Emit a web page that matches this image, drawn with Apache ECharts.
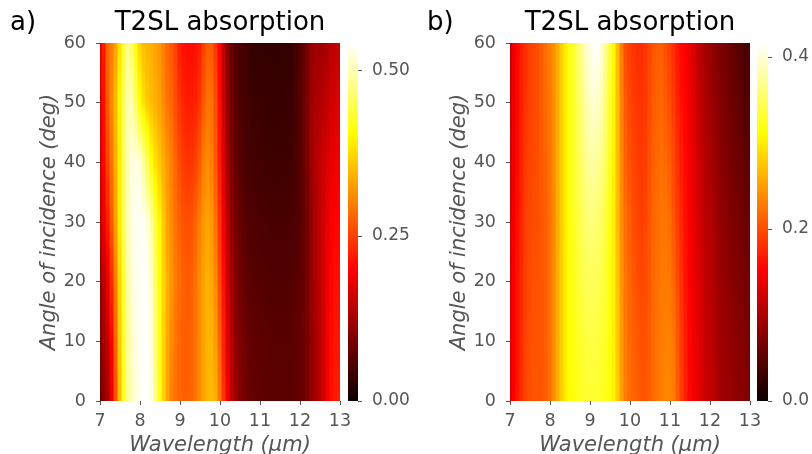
<!DOCTYPE html>
<html><head><meta charset="utf-8">
<script src="https://cdn.jsdelivr.net/npm/echarts@6/dist/echarts.min.js"></script>
<style>html,body{margin:0;padding:0;background:#fff}#c{width:812px;height:454px}</style>
</head><body><div id="c"></div>
<script>
// ---------- data ----------
const wavelengths = [7.0,7.1,7.2,7.3,7.4,7.5,7.6,7.7,7.8,7.9,
  8.0,8.1,8.2,8.3,8.4,8.5,8.6,8.7,8.8,8.9,
  9.0,9.1,9.2,9.3,9.4,9.5,9.6,9.7,9.8,9.9,
  10.0,10.1,10.2,10.3,10.4,10.5,10.6,10.7,10.8,10.9,
  11.0,11.1,11.2,11.3,11.4,11.5,11.6,11.7,11.8,11.9,
  12.0,12.1,12.2,12.3,12.4,12.5,12.6,12.7,12.8,12.9,13.0];
const angles = [0,10,20,30,40,50,60];

// panel a) absorption, one row per angle
const absA_0 = [0.08,0.10,0.13,0.18,0.26,0.35,0.42,0.48,0.51,0.52,
  0.53,0.54,0.54,0.53,0.48,0.42,0.37,0.33,0.30,0.29,
  0.28,0.275,0.275,0.28,0.29,0.31,0.33,0.345,0.35,0.34,
  0.30,0.24,0.19,0.15,0.12,0.10,0.09,0.08,0.075,0.07,
  0.07,0.069,0.068,0.067,0.066,0.066,0.066,0.067,0.068,0.07,
  0.072,0.077,0.09,0.11,0.125,0.14,0.16,0.19,0.21,0.22,0.22];
const absA_10 = [0.09,0.12,0.15,0.20,0.28,0.36,0.43,0.48,0.51,0.525,
  0.535,0.54,0.54,0.52,0.47,0.42,0.37,0.335,0.31,0.295,
  0.28,0.275,0.272,0.278,0.29,0.31,0.33,0.345,0.345,0.325,
  0.28,0.225,0.175,0.14,0.11,0.095,0.085,0.077,0.072,0.068,
  0.067,0.066,0.065,0.064,0.063,0.063,0.063,0.064,0.066,0.068,
  0.072,0.078,0.09,0.11,0.125,0.14,0.16,0.19,0.205,0.215,0.215];
const absA_20 = [0.11,0.14,0.18,0.23,0.30,0.37,0.43,0.49,0.52,0.53,
  0.535,0.54,0.535,0.51,0.46,0.41,0.37,0.34,0.32,0.30,
  0.285,0.275,0.27,0.275,0.29,0.31,0.33,0.34,0.335,0.31,
  0.26,0.21,0.16,0.125,0.10,0.085,0.075,0.068,0.064,0.062,
  0.061,0.06,0.059,0.058,0.057,0.057,0.057,0.058,0.06,0.063,
  0.068,0.075,0.09,0.11,0.13,0.145,0.165,0.185,0.20,0.21,0.21];
const absA_30 = [0.14,0.18,0.22,0.27,0.33,0.39,0.45,0.50,0.525,0.535,
  0.54,0.535,0.52,0.49,0.44,0.40,0.36,0.33,0.31,0.29,
  0.275,0.265,0.26,0.265,0.28,0.30,0.32,0.33,0.32,0.29,
  0.24,0.19,0.14,0.11,0.09,0.075,0.065,0.06,0.057,0.055,
  0.054,0.053,0.052,0.051,0.05,0.05,0.05,0.051,0.053,0.056,
  0.06,0.07,0.085,0.11,0.13,0.145,0.16,0.18,0.195,0.20,0.20];
const absA_40 = [0.15,0.20,0.25,0.29,0.34,0.39,0.45,0.50,0.52,0.53,
  0.52,0.49,0.45,0.41,0.38,0.36,0.34,0.32,0.30,0.28,
  0.26,0.245,0.24,0.24,0.25,0.27,0.30,0.31,0.30,0.27,
  0.22,0.17,0.125,0.095,0.075,0.063,0.056,0.05,0.047,0.046,
  0.045,0.044,0.043,0.042,0.042,0.042,0.042,0.043,0.045,0.05,
  0.06,0.075,0.095,0.12,0.135,0.145,0.16,0.17,0.18,0.185,0.19];
const absA_50 = [0.16,0.21,0.27,0.31,0.35,0.40,0.45,0.50,0.50,0.46,
  0.41,0.38,0.36,0.35,0.34,0.33,0.31,0.29,0.28,0.26,
  0.24,0.225,0.22,0.22,0.225,0.24,0.27,0.29,0.29,0.26,
  0.21,0.16,0.11,0.085,0.065,0.055,0.05,0.045,0.042,0.04,
  0.039,0.038,0.037,0.037,0.036,0.036,0.037,0.038,0.04,0.048,
  0.06,0.075,0.095,0.12,0.13,0.135,0.14,0.15,0.16,0.165,0.17];
const absA_60 = [0.17,0.22,0.28,0.30,0.33,0.38,0.43,0.48,0.46,0.41,
  0.37,0.35,0.345,0.34,0.33,0.32,0.30,0.28,0.27,0.25,
  0.22,0.21,0.205,0.205,0.21,0.22,0.25,0.27,0.27,0.24,
  0.20,0.15,0.10,0.075,0.06,0.05,0.045,0.04,0.035,0.034,
  0.033,0.032,0.032,0.031,0.031,0.032,0.033,0.034,0.036,0.045,
  0.055,0.07,0.09,0.11,0.12,0.12,0.125,0.13,0.14,0.145,0.15];

// panel b) absorption, one row per angle
const absB_0 = [0.13,0.15,0.165,0.18,0.195,0.20,0.205,0.205,0.205,0.21,
  0.22,0.24,0.26,0.28,0.30,0.31,0.315,0.32,0.325,0.33,
  0.33,0.33,0.33,0.325,0.32,0.315,0.305,0.28,0.25,0.23,
  0.22,0.215,0.21,0.205,0.205,0.21,0.22,0.225,0.23,0.235,
  0.235,0.23,0.21,0.19,0.17,0.155,0.145,0.14,0.13,0.12,
  0.115,0.11,0.10,0.095,0.09,0.09,0.085,0.08,0.08,0.075,0.075];
const absB_10 = [0.13,0.15,0.163,0.178,0.193,0.198,0.203,0.203,0.205,0.21,
  0.22,0.238,0.26,0.28,0.30,0.31,0.318,0.325,0.33,0.335,
  0.338,0.338,0.336,0.332,0.325,0.315,0.303,0.278,0.248,0.228,
  0.218,0.212,0.207,0.202,0.202,0.208,0.218,0.224,0.229,0.232,
  0.232,0.226,0.207,0.187,0.168,0.154,0.144,0.138,0.128,0.118,
  0.113,0.108,0.098,0.093,0.088,0.087,0.082,0.078,0.077,0.072,0.072];
const absB_20 = [0.128,0.148,0.162,0.177,0.192,0.197,0.202,0.202,0.205,0.21,
  0.22,0.237,0.26,0.28,0.30,0.312,0.32,0.33,0.338,0.345,
  0.348,0.348,0.345,0.34,0.33,0.318,0.302,0.275,0.245,0.225,
  0.214,0.206,0.20,0.196,0.198,0.207,0.217,0.222,0.227,0.228,
  0.226,0.216,0.198,0.181,0.164,0.152,0.142,0.134,0.124,0.114,
  0.109,0.104,0.094,0.089,0.084,0.081,0.076,0.074,0.071,0.066,0.066];
const absB_30 = [0.125,0.145,0.16,0.175,0.19,0.195,0.20,0.20,0.205,0.21,
  0.22,0.235,0.26,0.28,0.30,0.315,0.325,0.335,0.345,0.355,
  0.36,0.36,0.355,0.35,0.335,0.32,0.30,0.27,0.24,0.22,
  0.21,0.20,0.195,0.19,0.195,0.205,0.215,0.22,0.225,0.225,
  0.22,0.205,0.19,0.175,0.16,0.15,0.14,0.13,0.12,0.11,
  0.105,0.10,0.09,0.085,0.08,0.075,0.07,0.07,0.065,0.06,0.06];
const absB_40 = [0.12,0.143,0.158,0.173,0.187,0.193,0.198,0.20,0.206,0.213,
  0.223,0.237,0.26,0.28,0.30,0.315,0.327,0.34,0.353,0.366,
  0.375,0.378,0.373,0.365,0.347,0.327,0.303,0.27,0.237,0.213,
  0.203,0.195,0.19,0.187,0.19,0.202,0.212,0.217,0.22,0.217,
  0.21,0.197,0.182,0.168,0.157,0.147,0.137,0.125,0.115,0.105,
  0.10,0.093,0.085,0.08,0.075,0.07,0.065,0.063,0.058,0.053,0.053];
const absB_50 = [0.115,0.141,0.156,0.171,0.183,0.191,0.196,0.20,0.208,0.217,
  0.227,0.238,0.26,0.28,0.30,0.315,0.328,0.345,0.362,0.378,
  0.39,0.397,0.394,0.383,0.358,0.333,0.306,0.27,0.233,0.206,
  0.196,0.19,0.185,0.183,0.187,0.198,0.208,0.213,0.215,0.208,
  0.20,0.188,0.173,0.161,0.153,0.143,0.133,0.12,0.11,0.10,
  0.095,0.087,0.08,0.075,0.07,0.065,0.06,0.056,0.051,0.046,0.046];
const absB_60 = [0.11,0.14,0.155,0.17,0.18,0.19,0.195,0.20,0.21,0.22,
  0.23,0.24,0.26,0.28,0.30,0.315,0.33,0.35,0.37,0.39,
  0.405,0.415,0.415,0.40,0.37,0.34,0.31,0.27,0.23,0.20,
  0.19,0.185,0.18,0.18,0.185,0.195,0.205,0.21,0.21,0.20,
  0.19,0.18,0.165,0.155,0.15,0.14,0.13,0.115,0.105,0.095,
  0.09,0.08,0.075,0.07,0.065,0.06,0.055,0.05,0.045,0.04,0.04];

// colour-scale ranges and tick labels
const colorMaxA = 0.542;
const colorMaxB = 0.416;
const cbTicksA = [0, 0.25, 0.5];
const cbTicksB = [0, 0.2, 0.4];
const xTicks = [7, 8, 9, 10, 11, 12, 13];
const yTicks = [0, 10, 20, 30, 40, 50, 60];

// ---------- build ----------
const rowsA = [absA_0, absA_10, absA_20, absA_30, absA_40, absA_50, absA_60];
const rowsB = [absB_0, absB_10, absB_20, absB_30, absB_40, absB_50, absB_60];
// each item: [wavelength, angle_low, angle_high, value_low, value_high]
function toCells(rows) {
  const out = [];
  for (let r = 0; r < angles.length - 1; r++) {
    rows[r].forEach((v, c) => out.push([wavelengths[c], angles[r], angles[r + 1], v, rows[r + 1][c]]));
  }
  return out;
}
const dataA = toCells(rowsA);
const dataB = toCells(rowsB);

// matplotlib "hot" colormap
function hotColor(t) {
  t = Math.max(0, Math.min(1, t));
  const r = t < 0.365079 ? 0.0416 + (1 - 0.0416) * t / 0.365079 : 1;
  const g = t < 0.365079 ? 0 : (t < 0.746032 ? (t - 0.365079) / 0.380953 : 1);
  const b = t < 0.746032 ? 0 : (t - 0.746032) / 0.253968;
  return 'rgb(' + Math.round(r * 255) + ',' + Math.round(g * 255) + ',' + Math.round(b * 255) + ')';
}
function colorbarGradient() {
  const stops = [];
  const n = 60;
  for (let i = 0; i <= n; i++) stops.push({ offset: i / n, color: hotColor(1 - i / n) });
  return new echarts.graphic.LinearGradient(0, 0, 0, 1, stops);
}

const FONT = 'DejaVu Sans';
const GRAY = '#555555';
const dW = 0.1;

function cellRenderer(vmax) {
  return function (params, api) {
    const x = api.value(0), a0 = api.value(1), a1 = api.value(2);
    const v0 = api.value(3), v1 = api.value(4);
    const pTL = api.coord([x - dW / 2, a1]);
    const pBR = api.coord([x + dW / 2, a0]);
    const cs = params.coordSys;
    const rect = echarts.graphic.clipRectByRect(
      { x: pTL[0] - 0.5, y: pTL[1] - 0.5, width: pBR[0] - pTL[0] + 1, height: pBR[1] - pTL[1] + 1 },
      { x: cs.x, y: cs.y, width: cs.width, height: cs.height });
    if (!rect) return null;
    const stops = [];
    const n = 8;
    for (let k = 0; k <= n; k++) {
      const v = v1 + (v0 - v1) * k / n;   // top (high angle) -> bottom (low angle)
      stops.push({ offset: k / n, color: hotColor(v / vmax) });
    }
    return { type: 'rect', shape: rect,
      style: { fill: new echarts.graphic.LinearGradient(0, 0, 0, 1, stops) } };
  };
}

function mainX(gi) {
  return {
    gridIndex: gi, type: 'value', min: 7, max: 13, interval: 1,
    name: 'Wavelength (µm)', nameLocation: 'middle', nameGap: 28,
    nameTextStyle: { fontFamily: FONT, fontSize: 21, fontStyle: 'italic', color: GRAY },
    axisLine: { show: false }, splitLine: { show: false },
    axisTick: { show: true, length: 4, lineStyle: { color: GRAY } },
    axisLabel: { margin: 11, fontFamily: FONT, fontSize: 17.5, color: GRAY, customValues: xTicks }
  };
}
function mainY(gi) {
  return {
    gridIndex: gi, type: 'value', min: 0, max: 60, interval: 10,
    name: 'Angle of incidence (deg)', nameLocation: 'middle', nameGap: 30,
    nameTextStyle: { fontFamily: FONT, fontSize: 21, fontStyle: 'italic', color: GRAY },
    axisLine: { show: false }, splitLine: { show: false },
    axisTick: { show: true, length: 4, lineStyle: { color: GRAY } },
    axisLabel: { margin: 14, fontFamily: FONT, fontSize: 17.5, color: GRAY, customValues: yTicks }
  };
}
function cbY(gi, max, ticks, digits, interval) {
  return {
    gridIndex: gi, type: 'value', min: 0, max: max, interval: interval, position: 'right',
    axisLine: { show: false }, splitLine: { show: false },
    axisTick: { show: true, length: 4, lineStyle: { color: GRAY }, customValues: ticks },
    axisLabel: { margin: 14, fontFamily: FONT, fontSize: 17, color: GRAY,
      customValues: ticks, formatter: v => v.toFixed(digits) }
  };
}
const titleStyle = { fontFamily: FONT, fontSize: 26, fontWeight: 'normal', color: '#000' };
const gridBase = { outerBoundsMode: 'none', containLabel: false };

const option = {
  animation: false,
  backgroundColor: '#fff',
  title: [
    { text: 'T2SL absorption', left: 220, top: 10, textAlign: 'center', padding: 0, textStyle: titleStyle },
    { text: 'a)', left: 10, top: 10, padding: 0, textStyle: titleStyle },
    { text: 'T2SL absorption', left: 630, top: 10, textAlign: 'center', padding: 0, textStyle: titleStyle },
    { text: 'b)', left: 427, top: 10, padding: 0, textStyle: titleStyle }
  ],
  grid: [
    Object.assign({ left: 100, top: 43, width: 240, height: 358 }, gridBase),
    Object.assign({ left: 348, top: 43, width: 10, height: 358 }, gridBase),
    Object.assign({ left: 510, top: 43, width: 240, height: 358 }, gridBase),
    Object.assign({ left: 757, top: 43, width: 11, height: 358 }, gridBase)
  ],
  xAxis: [
    mainX(0),
    { gridIndex: 1, type: 'category', data: ['cb'], show: false },
    mainX(2),
    { gridIndex: 3, type: 'category', data: ['cb'], show: false }
  ],
  yAxis: [
    mainY(0),
    cbY(1, colorMaxA, cbTicksA, 2, 0.25),
    mainY(2),
    cbY(3, colorMaxB, cbTicksB, 1, 0.2)
  ],
  series: [
    { type: 'custom', xAxisIndex: 0, yAxisIndex: 0, data: dataA, renderItem: cellRenderer(colorMaxA),
      encode: { x: 0, y: [1, 2] }, silent: true },
    { type: 'custom', xAxisIndex: 2, yAxisIndex: 2, data: dataB, renderItem: cellRenderer(colorMaxB),
      encode: { x: 0, y: [1, 2] }, silent: true },
    { type: 'bar', xAxisIndex: 1, yAxisIndex: 1, data: [colorMaxA], barWidth: '100%',
      itemStyle: { color: colorbarGradient() }, silent: true },
    { type: 'bar', xAxisIndex: 3, yAxisIndex: 3, data: [colorMaxB], barWidth: '100%',
      itemStyle: { color: colorbarGradient() }, silent: true }
  ]
};
const chart = echarts.init(document.getElementById('c'), null, { renderer: 'canvas' });
chart.setOption(option);
</script>
</body></html>
